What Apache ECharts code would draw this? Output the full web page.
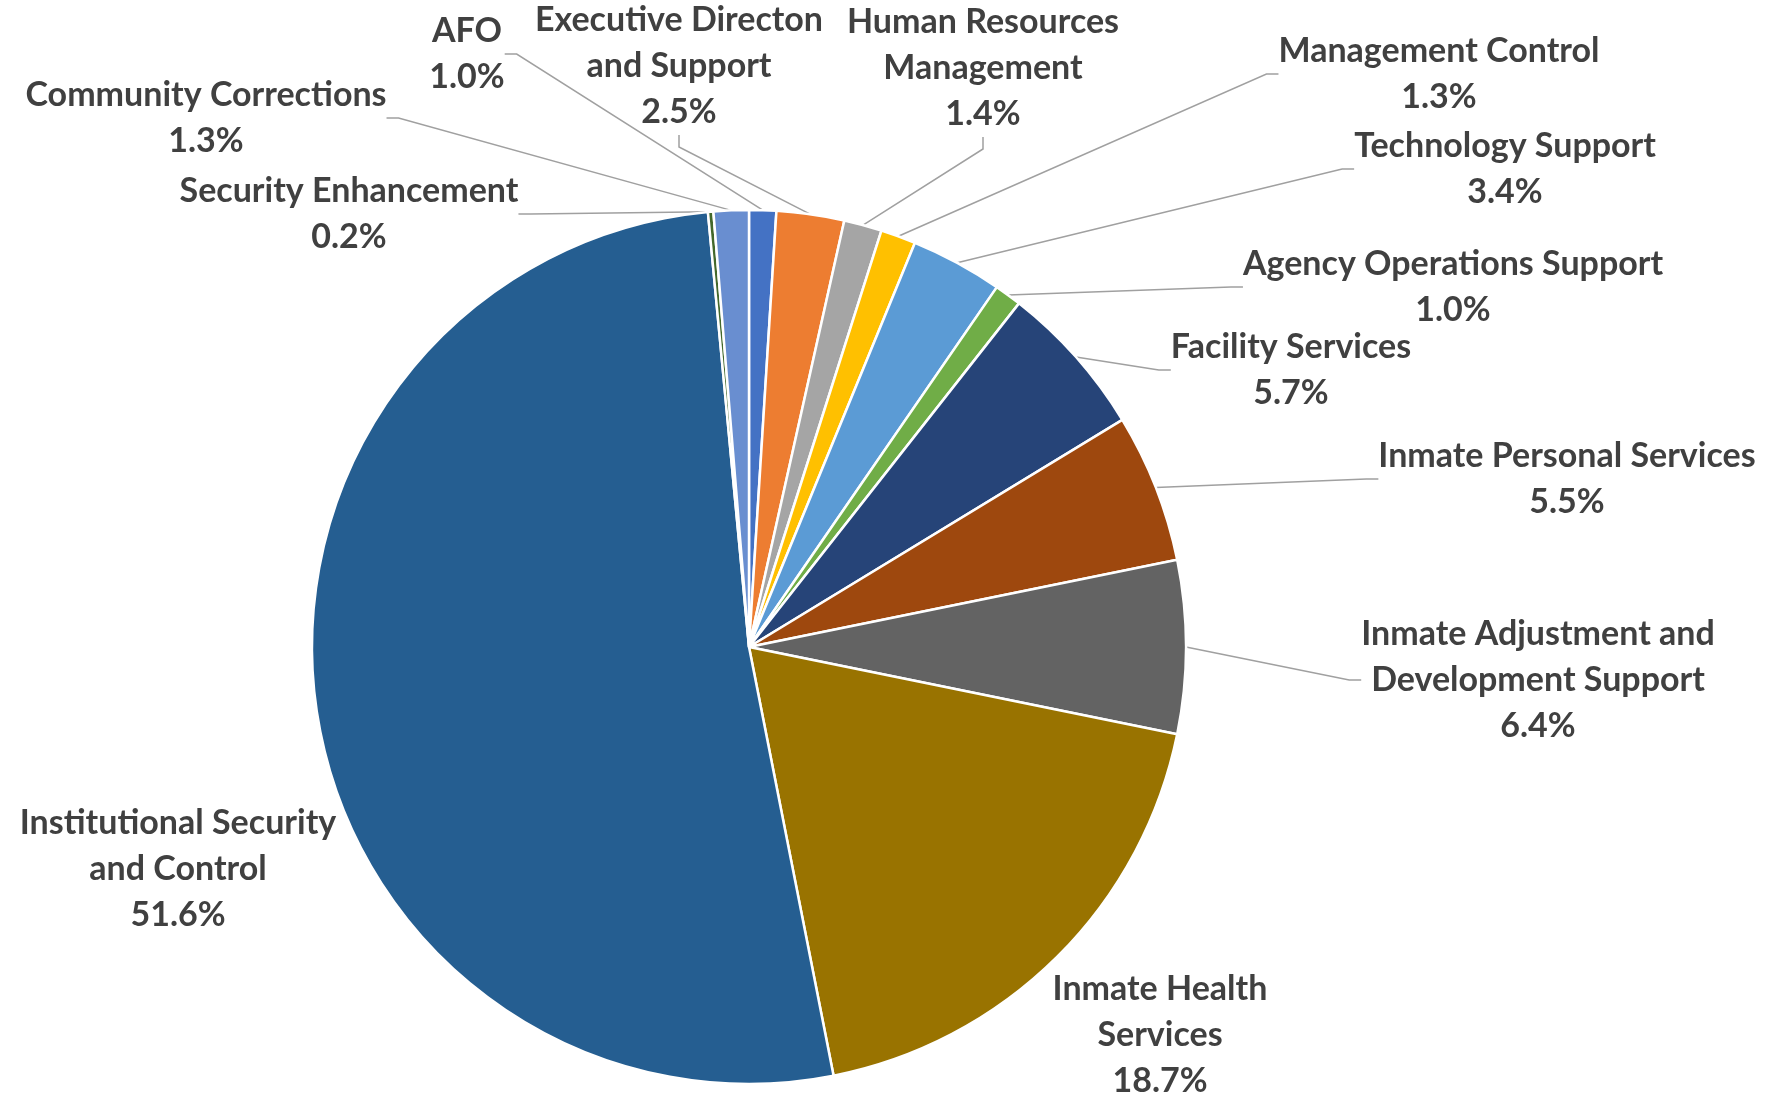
<!DOCTYPE html>
<html>
<head>
<meta charset="utf-8">
<script src="https://cdn.jsdelivr.net/npm/echarts@6/dist/echarts.min.js"></script>
<style>
  html, body { margin: 0; padding: 0; background: #ffffff; }
  #chart { width: 1780px; height: 1102px; }
</style>
</head>
<body>
<div id="chart"></div>
<script>
  // slices, clockwise from 12 o'clock
  const names = [
    'AFO',
    'Executive Directon\nand Support',
    'Human Resources\nManagement',
    'Management Control',
    'Technology Support',
    'Agency Operations Support',
    'Facility Services',
    'Inmate Personal Services',
    'Inmate Adjustment and\nDevelopment Support',
    'Inmate Health\nServices',
    'Institutional Security\nand Control',
    'Security Enhancement',
    'Community Corrections',
  ];
  const shares = [1.0, 2.5, 1.4, 1.3, 3.4, 1.0, 5.7, 5.5, 6.4, 18.7, 51.6, 0.2, 1.3];
  const colors = [
    '#4472C4', '#ED7D31', '#A5A5A5', '#FFC000', '#5B9BD5', '#70AD47', '#264478',
    '#9E480E', '#636363', '#997300', '#255E91', '#43682B', '#698ED0',
  ];

  // where each label block sits (centre of the text block), as in the original
  const labelPos = [
    [467, 54], [679, 66], [983, 68], [1439, 74], [1505, 169], [1453, 287], [1291, 370],
    [1567, 479], [1538, 680], [1160, 1035], [178, 869], [349, 214], [206, 118],
  ];
  const noLine = [9, 10];

  const chart = echarts.init(document.getElementById('chart'));
  chart.setOption({
    animation: false,
    color: colors,
    series: [
      {
        type: 'pie',
        center: [749, 647],
        radius: 437,
        startAngle: 90,
        clockwise: true,
        avoidLabelOverlap: false,
        data: names.map((n, i) => ({
          name: n,
          value: shares[i],
          labelLine: { show: noLine.indexOf(i) < 0 },
        })),
        itemStyle: { borderColor: '#ffffff', borderWidth: 2.5 },
        label: {
          show: true,
          position: 'outside',
          color: '#404040',
          fontFamily: 'Lato',
          fontWeight: 'bold',
          fontSize: 34,
          lineHeight: 46,
          align: 'center',
          formatter: (p) => p.name + '\n' + p.value.toFixed(1) + '%',
        },
        labelLine: {
          show: true,
          length: 20,
          length2: 12,
          lineStyle: { color: '#A0A0A0', width: 1.5 },
        },
        labelLayout: (params) => {
          const p = labelPos[params.dataIndex];
          return { x: p[0], y: p[1], align: 'center', verticalAlign: 'middle' };
        },
        emphasis: { disabled: true },
      },
    ],
  });
</script>
</body>
</html>
